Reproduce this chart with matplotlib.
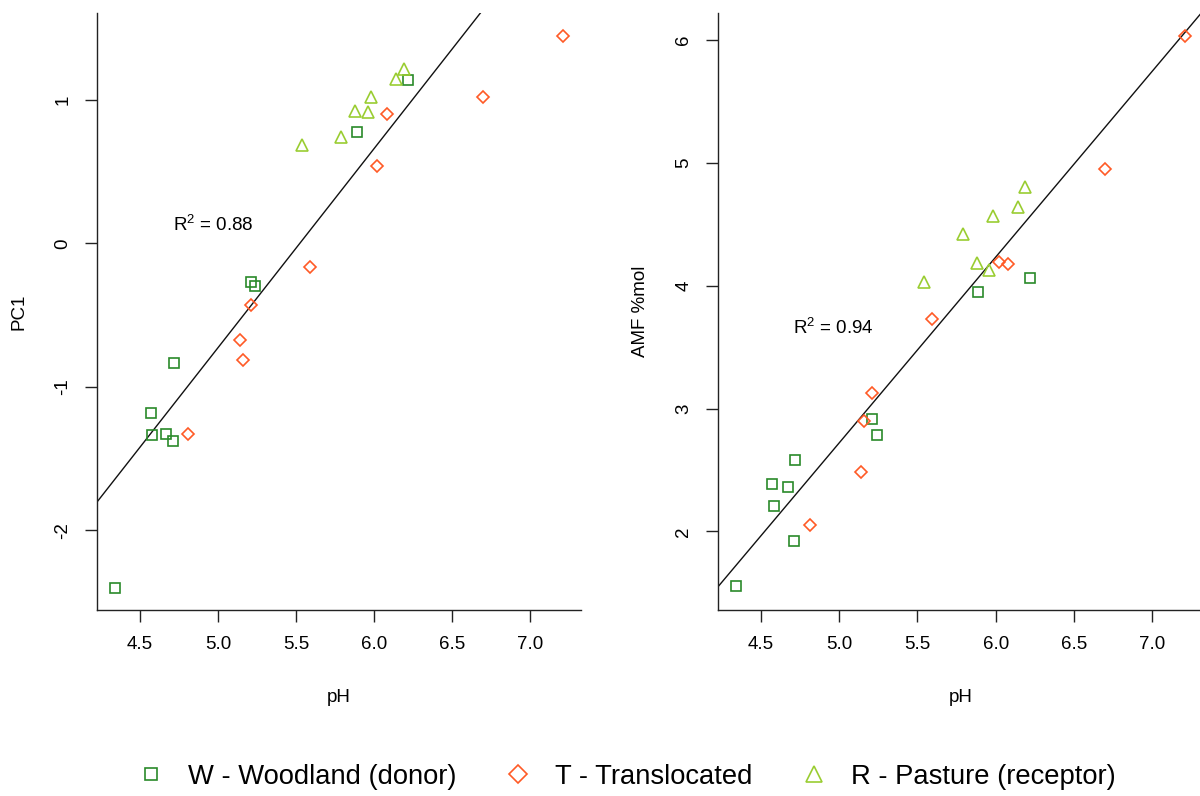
import matplotlib
matplotlib.use("Agg")
import matplotlib.pyplot as plt
from matplotlib.lines import Line2D
import numpy as np

plt.rcParams['font.family'] = ['Liberation Sans', 'DejaVu Sans']
plt.rcParams['mathtext.default'] = 'regular'

# ---- data ----
w_ph  = [4.34, 4.57, 4.58, 4.67, 4.71, 4.72, 5.21, 5.24, 5.89, 6.22]
w_pc1 = [-2.40, -1.185, -1.338, -1.329, -1.375, -0.836, -0.271, -0.296, 0.776, 1.137]
w_amf = [1.555, 2.383, 2.205, 2.364, 1.925, 2.583, 2.912, 2.783, 3.951, 4.062]

t_ph  = [4.81, 5.14, 5.16, 5.21, 5.59, 6.02, 6.08, 6.70, 7.21]
t_pc1 = [-1.329, -0.676, -0.815, -0.431, -0.164, 0.535, 0.900, 1.021, 1.444]
t_amf = [2.054, 2.483, 2.899, 3.123, 3.733, 4.190, 4.180, 4.950, 6.032]

r_ph  = [5.54, 5.79, 5.88, 5.96, 5.98, 6.14, 6.19]
r_pc1 = [0.688, 0.738, 0.924, 0.917, 1.019, 1.141, 1.213]
r_amf = [4.032, 4.421, 4.184, 4.130, 4.569, 4.642, 4.802]

fit_pc1 = (1.387, -7.662)   # slope, intercept
fit_amf = (1.512, -4.839)
r2_pc1 = "0.88"
r2_amf = "0.94"

x_ticks = [4.5, 5.0, 5.5, 6.0, 6.5, 7.0]
pc1_ticks = [-2, -1, 0, 1]
amf_ticks = [2, 3, 4, 5, 6]

group_labels = ["W - Woodland (donor)", "T - Translocated", "R - Pasture (receptor)"]
group_colors = ["#2A8A2A", "#FF5A26", "#9ACD32"]
group_markers = ["s", "D", "^"]
marker_sizes = [6.6, 6.3, 8.0]
legend_sizes = [8.4, 9.0, 12.0]

W, H = 1200, 796
fig = plt.figure(figsize=(W / 100, H / 100), dpi=100)

def px_axes(l, t, r, b):
    return fig.add_axes([l / W, 1 - b / H, (r - l) / W, (b - t) / H])

ax1 = px_axes(97, 13, 581, 610)
ax2 = px_axes(718, 13, 1203, 610)

xlim = (4.225, 7.325)
FS = 13.5

def style(ax, yticks, ylim, ylabel, lab_x):
    ax.set_xlim(*xlim)
    ax.set_ylim(*ylim)
    ax.set_xticks(x_ticks)
    ax.set_xticklabels([f"{v:.1f}" for v in x_ticks])
    ax.set_yticks(yticks)
    ax.set_yticklabels([str(v) for v in yticks], rotation=90, va='center')
    for s in ['top', 'right']:
        ax.spines[s].set_visible(False)
    for s in ['left', 'bottom']:
        ax.spines[s].set_linewidth(1.0)
        ax.spines[s].set_color('#222222')
    ax.tick_params(axis='both', length=8.5, width=1.0, color='#222222',
                   labelsize=FS)
    ax.tick_params(axis='x', pad=10)
    ax.tick_params(axis='y', pad=10)
    ax.set_xlabel("pH", fontsize=FS)
    ax.xaxis.set_label_coords(0.5, -0.146)
    ax.xaxis.label.set_va('center')
    ax.set_ylabel(ylabel, fontsize=FS)
    ax.yaxis.set_label_coords(lab_x, 0.5)
    ax.yaxis.label.set_va('center')

def draw(ax, ys, fit, r2, txt_xy):
    xs = [w_ph, t_ph, r_ph]
    for x, y, c, m, ms in zip(xs, ys, group_colors, group_markers, marker_sizes):
        ax.plot(x, y, linestyle='none', marker=m, ms=ms, mfc='none', mec=c,
                mew=1.2, clip_on=False, zorder=3)
    xx = np.array(xlim)
    ax.plot(xx, fit[0] * xx + fit[1], color='#111111', lw=1.0, zorder=2)
    ax.text(txt_xy[0], txt_xy[1], r"$R^2$ = " + r2, fontsize=FS,
            ha='center', va='center')

draw(ax1, [w_pc1, t_pc1, r_pc1], fit_pc1, r2_pc1, (4.97, 0.13))
style(ax1, pc1_ticks, (-2.554, 1.604), "PC1", -0.161)

draw(ax2, [w_amf, t_amf, r_amf], fit_amf, r2_amf, (4.965, 3.66))
style(ax2, amf_ticks, (1.36, 6.22), "AMF %mol", -0.159)

handles = [Line2D([], [], linestyle='none', marker=m, ms=ms, mfc='none',
                  mec=c, mew=1.2)
           for m, ms, c in zip(group_markers, legend_sizes, group_colors)]
fig.legend(handles, group_labels, loc='center', ncol=3, frameon=False,
           bbox_to_anchor=(0.5195, 1 - 777 / H), fontsize=19.7,
           handlelength=1.4, handletextpad=0.65, columnspacing=1.55)

fig.savefig("out.png", dpi=100)
